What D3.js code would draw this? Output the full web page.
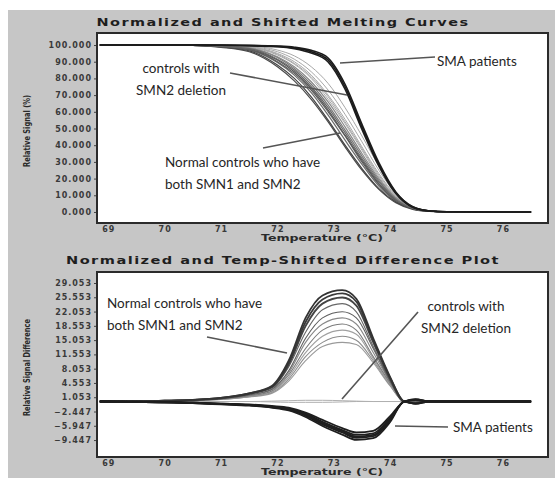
<!DOCTYPE html>
<html>
<head>
<meta charset="utf-8">
<script src="https://cdn.jsdelivr.net/npm/d3@7/dist/d3.min.js"></script>
<style>
  body { margin: 0; background: #fff; }
  svg { display: block; }
  .tick text { font-family: "DejaVu Sans", sans-serif; font-weight: bold; font-size: 8px; letter-spacing: 1px; fill: #3a3a3a; }
  .tick line { stroke: #444; }
  .note { font-family: Lato, "Open Sans", sans-serif; font-size: 13.5px; fill: #262626; }
</style>
</head>
<body>
<div id="chart"></div>
<script>
/////////////  DATA  ////////////////////////

// melting curves (top panel): temperatures and relative signal (%)
const meltTemps = [68.85, 70.0, 70.5, 71.0, 71.5, 72.0, 72.3, 72.6, 72.9, 73.2, 73.5, 73.8, 74.1, 74.4, 74.7, 75.0, 76.5];

const meltNormal = [
  [100, 100, 99.8, 99.2, 97.5, 91, 84, 74, 61, 46, 31, 17, 7, 2, 0.5, 0.1, 0],
  [100, 100, 99.8, 99, 97, 89.5, 82, 71.5, 58, 43, 28.5, 15.5, 6.5, 2, 0.5, 0.1, 0],
  [100, 100, 99.7, 98.8, 96.5, 88, 80, 69, 55, 40, 26, 14, 6, 1.8, 0.4, 0.1, 0],
  [100, 100, 99.9, 99.3, 98, 92.5, 86, 76.5, 64, 49, 33.5, 19, 8, 2.3, 0.5, 0.1, 0],
  [100, 100, 99.8, 99, 97.2, 90, 83, 73, 60, 45.5, 30, 16.5, 7, 2, 0.5, 0.1, 0],
  [100, 100, 99.9, 99.4, 98.2, 93, 87, 78, 66, 51, 35, 20, 8.5, 2.5, 0.6, 0.1, 0],
  [100, 100, 99.7, 98.6, 96, 87, 78.5, 67.5, 54, 39, 25, 13.5, 5.5, 1.6, 0.4, 0.1, 0],
  [100, 100, 99.9, 99.2, 97.8, 91.5, 85, 75, 62.5, 47.5, 32, 18, 7.5, 2.2, 0.5, 0.1, 0]
];

const meltDeletion = [
  [100, 100, 99.9, 99.6, 98.8, 95, 90, 82, 70, 55.5, 39, 23, 10, 3, 0.7, 0.2, 0],
  [100, 100, 99.9, 99.5, 98.5, 94, 88.5, 80, 67.5, 53, 37, 21, 9, 2.7, 0.6, 0.2, 0],
  [100, 100, 99.9, 99.7, 99, 96, 91.5, 84, 73, 58.5, 42, 25, 11, 3.2, 0.7, 0.2, 0],
  [100, 100, 99.9, 99.6, 98.7, 94.5, 89, 81, 69, 54, 38, 22, 9.5, 2.8, 0.6, 0.2, 0],
  [100, 100, 100, 99.8, 99.3, 97, 93.5, 87, 77, 62.5, 45.5, 27.5, 12, 3.5, 0.8, 0.2, 0]
];

const meltSMA = [
  [100, 100, 100, 99.9, 99.7, 99.2, 98.3, 96, 91, 75, 51, 28.5, 11.5, 3, 0.6, 0.1, 0],
  [100, 100, 100, 99.9, 99.6, 99, 97.8, 95.2, 89.8, 73.5, 49.5, 27.5, 11, 2.8, 0.6, 0.1, 0],
  [100, 100, 100, 100, 99.8, 99.4, 98.7, 96.8, 92.2, 76.5, 52.5, 29.5, 12, 3.1, 0.6, 0.1, 0]
];

// difference plot (bottom panel)
const diffTemps = [68.85, 70.0, 70.5, 71.0, 71.5, 71.9, 72.2, 72.5, 72.8, 73.15, 73.4, 73.7, 74.0, 74.25, 74.45, 74.7, 75.0, 76.5];

const diffNormal = [
  [0, 0.2, 0.4, 0.9, 2, 3.8, 10, 20.5, 26, 27.3, 25.2, 15.5, 6, 0, -0.4, 0.1, 0, 0],
  [0, 0.2, 0.4, 0.9, 2, 3.6, 9.5, 19.5, 25, 26.5, 24.5, 15, 5.8, 0, -0.3, 0.1, 0, 0],
  [0, 0.2, 0.4, 0.8, 1.9, 3.5, 9, 18.5, 24, 25.5, 23.5, 14.5, 5.5, 0, 0.3, 0, 0, 0],
  [0, 0.1, 0.3, 0.8, 1.8, 3.3, 8.5, 17, 22.5, 24, 22, 13.5, 5.2, 0, 0.4, 0, 0, 0],
  [0, 0.1, 0.3, 0.7, 1.6, 3, 7.5, 15.5, 20.5, 22, 20.5, 13, 5, 0, -0.3, 0, 0, 0],
  [0, 0.1, 0.3, 0.7, 1.5, 2.8, 7, 14.5, 19, 20.5, 19, 12, 4.8, 0, 0.3, 0, 0, 0],
  [0, 0.1, 0.3, 0.6, 1.4, 2.6, 6.5, 13, 17.5, 19, 17.5, 11, 4.5, 0, -0.2, 0, 0, 0],
  [0, 0.1, 0.2, 0.6, 1.3, 2.4, 6, 12, 16, 17.5, 16.5, 10.5, 4.2, 0, 0.2, 0, 0, 0],
  [0, 0.1, 0.2, 0.5, 1.2, 2.2, 5.5, 11, 14.5, 16, 15, 10, 4, 0, -0.2, 0, 0, 0],
  [0, 0.1, 0.2, 0.5, 1.1, 2, 5, 10, 13.5, 14.5, 14, 9.5, 3.8, 0, 0.2, 0, 0, 0]
];

const diffDeletion = [
  [0, 0, 0, 0, 0, 0.1, 0.2, 0.3, 0.3, 0.2, 0.1, 0, 0, 0, 0, 0, 0, 0],
  [0, 0, 0, 0, 0, -0.1, -0.2, -0.2, -0.2, -0.1, 0, 0, 0, 0, 0, 0, 0, 0]
];

const diffSMA = [
  [0, -0.2, -0.3, -0.5, -0.8, -1.2, -1.7, -3.0, -5.0, -7.0, -8.2, -7.8, -4.0, 0, 0.5, 0, 0, 0],
  [0, -0.2, -0.4, -0.6, -0.9, -1.4, -2.0, -3.5, -5.6, -7.6, -8.9, -8.5, -4.6, 0, -0.5, 0, 0, 0],
  [0, -0.1, -0.3, -0.5, -0.7, -1.1, -1.5, -2.7, -4.5, -6.5, -7.6, -7.2, -3.6, 0, 0.4, 0, 0, 0],
  [0, -0.2, -0.4, -0.7, -1.0, -1.5, -2.2, -3.8, -6.0, -8.1, -9.4, -9.0, -5.0, 0, -0.6, 0, 0, 0],
  [0, -0.2, -0.3, -0.6, -0.9, -1.3, -1.8, -3.2, -5.3, -7.3, -8.6, -8.2, -4.3, 0, 0.6, 0, 0, 0]
];

// tick labels
const xTicks = [69, 70, 71, 72, 73, 74, 75, 76];
const meltTicks = [100, 90, 80, 70, 60, 50, 40, 30, 20, 10, 0];
const diffTicks = [29.053, 25.553, 22.053, 18.553, 15.053, 11.553, 8.053, 4.553, 1.053, -2.447, -5.947, -9.447];

/////////////  D3   ////////////////////////
const w = 559, h = 478;
const left = 97, right = 548;

const svg = d3.select("#chart").append("svg")
  .attr("width", w)
  .attr("height", h);

// gray page behind the two plots
svg.append("rect")
  .attr("x", 8).attr("y", 10)
  .attr("width", 547).attr("height", h - 10)
  .attr("fill", "#c6c6c6");

const xScale = d3.scaleLinear().domain([68.8, 76.8]).range([left, right]);

function panel(top, bottom, yDomain, yTicks, fmt, title, titleY, titleLen, yTitle, yTitleLen) {
  const yScale = d3.scaleLinear().domain(yDomain).range([bottom, top]);
  const g = svg.append("g");

  g.append("rect")
    .attr("x", left).attr("y", top)
    .attr("width", right - left).attr("height", bottom - top)
    .attr("fill", "#fff");

  g.append("text")
    .attr("x", 283).attr("y", titleY)
    .attr("text-anchor", "middle")
    .attr("font-family", "DejaVu Sans, sans-serif")
    .attr("font-weight", "bold")
    .attr("font-size", "10px")
    .attr("letter-spacing", "1px")
    .attr("textLength", titleLen)
    .attr("lengthAdjust", "spacingAndGlyphs")
    .attr("fill", "#1e1e1e")
    .text(title);

  let yAxis = d3.axisLeft(yScale)
    .tickValues(yTicks)
    .tickFormat(fmt)
    .tickSize(3)
    .tickPadding(2);
  g.append("g")
    .attr("transform", "translate(" + left + ",0)")
    .call(yAxis)
    .call(a => a.select(".domain").remove());

  let xAxis = d3.axisBottom(xScale)
    .tickValues(xTicks)
    .tickFormat(d3.format("d"))
    .tickSize(0)
    .tickPadding(3);
  g.append("g")
    .attr("transform", "translate(0," + bottom + ")")
    .call(xAxis)
    .call(a => a.select(".domain").remove());

  g.append("text")
    .attr("x", 322).attr("y", bottom + 18)
    .attr("text-anchor", "middle")
    .attr("font-family", "DejaVu Sans, sans-serif")
    .attr("font-weight", "bold")
    .attr("font-size", "8px")
    .attr("textLength", 122)
    .attr("lengthAdjust", "spacingAndGlyphs")
    .attr("fill", "#2a2a2a")
    .text("Temperature (°C)");

  g.append("text")
    .attr("transform", "translate(30," + ((top + bottom) / 2 + 3) + ") rotate(-90)")
    .attr("text-anchor", "middle")
    .attr("font-family", "DejaVu Sans, sans-serif")
    .attr("font-weight", "bold")
    .attr("font-size", "8px")
    .attr("textLength", yTitleLen)
    .attr("lengthAdjust", "spacingAndGlyphs")
    .attr("fill", "#2a2a2a")
    .text(yTitle);

  return { g: g, y: yScale, top: top, bottom: bottom };
}

function drawCurves(p, temps, series, color, width) {
  const line = d3.line()
    .x((d, i) => xScale(temps[i]))
    .y(d => p.y(d))
    .curve(d3.curveMonotoneX);
  p.g.append("g")
    .selectAll("path")
    .data(series)
    .enter()
    .append("path")
    .attr("d", line)
    .attr("fill", "none")
    .attr("stroke", (d, i) => typeof color === "function" ? color(i) : color)
    .attr("stroke-width", (d, i) => typeof width === "function" ? width(i) : width)
    .attr("stroke-linejoin", "round");
}

function border(p) {
  p.g.append("rect")
    .attr("x", left).attr("y", p.top)
    .attr("width", right - left).attr("height", p.bottom - p.top)
    .attr("fill", "none")
    .attr("stroke", "#2b2b2b")
    .attr("stroke-width", 2);
}

function pointer(p, x1, y1, x2, y2) {
  p.g.append("line")
    .attr("x1", x1).attr("y1", y1)
    .attr("x2", x2).attr("y2", y2)
    .attr("stroke", "#555")
    .attr("stroke-width", 1.6);
}

function note(p, x, y, lines, anchor) {
  const t = p.g.append("text")
    .attr("class", "note")
    .attr("text-anchor", anchor || "start");
  lines.forEach((s, i) => {
    t.append("tspan").attr("x", x).attr("y", y + i * 22).text(s);
  });
}

////////////// top panel: melting curves //////////////
const melt = panel(33, 223, [-6.6, 107.2], meltTicks, d3.format(".3f"),
  "Normalized and Shifted Melting Curves", 26, 373, "Relative Signal (%)", 72);

drawCurves(melt, meltTemps, meltDeletion, "#a8a8a8", 1);
drawCurves(melt, meltTemps, meltNormal, i => ["#555", "#6a6a6a", "#444", "#777", "#5a5a5a", "#888", "#4a4a4a", "#666"][i], 1.2);
drawCurves(melt, meltTemps, meltSMA, "#1c1c1c", 1.6);

note(melt, 181, 73, ["controls with", "SMN2 deletion"], "middle");
pointer(melt, 230, 73, 347, 95);
note(melt, 437, 66, ["SMA patients"]);
pointer(melt, 340, 63, 435, 57);
note(melt, 165, 167, ["Normal controls who have", "both SMN1 and SMN2"]);
pointer(melt, 263, 148, 340, 133);
border(melt);

////////////// bottom panel: difference plot //////////////
const diff = panel(272, 457, [-13.6, 31.75], diffTicks, d3.format(".3f"),
  "Normalized and Temp-Shifted Difference Plot", 264, 434, "Relative Signal Difference", 97);

drawCurves(diff, diffTemps, diffDeletion, "#b0b0b0", 1);
drawCurves(diff, diffTemps, diffNormal.slice().reverse(),
  i => ["#9a9a9a", "#8c8c8c", "#a0a0a0", "#7a7a7a", "#888", "#5e5e5e", "#666", "#444", "#3a3a3a", "#333"][i],
  i => i > 6 ? 1.8 : 1.1);
drawCurves(diff, diffTemps, diffSMA, "#1e1e1e", 1.8);

note(diff, 107, 308, ["Normal controls who have", "both SMN1 and SMN2"]);
pointer(diff, 207, 337, 287, 353);
note(diff, 466, 311, ["controls with", "SMN2 deletion"], "middle");
pointer(diff, 418, 312, 342, 399);
note(diff, 453, 432, ["SMA patients"]);
pointer(diff, 395, 426, 448, 427);
border(diff);
</script>
</body>
</html>
